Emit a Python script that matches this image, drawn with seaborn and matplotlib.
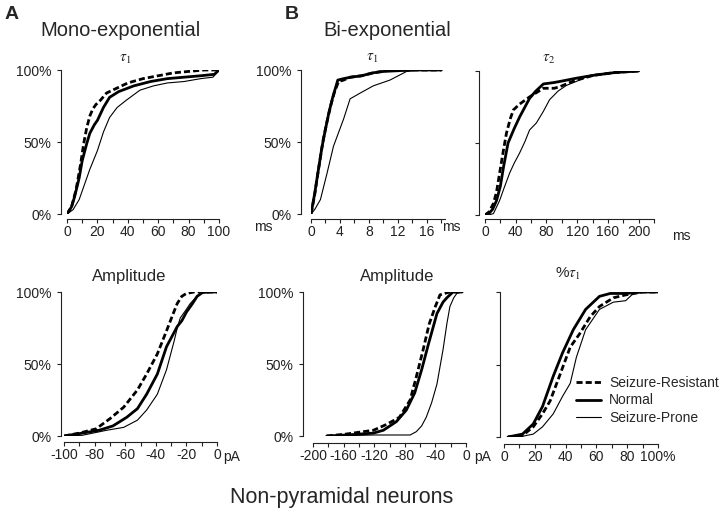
import matplotlib
matplotlib.use("Agg")
import matplotlib.pyplot as plt
import seaborn as sns
from matplotlib.lines import Line2D
from matplotlib.ticker import MultipleLocator

# Mono-exponential tau1 (ms) -- cumulative %
mono_tau_res_x = [0, 3, 6, 9, 11, 13, 15, 17, 19, 22, 26, 32, 40, 50, 60, 70, 80, 90, 100]
mono_tau_res_y = [0, 5, 17, 35, 49, 60, 68, 73, 76, 79, 84, 87, 91, 94, 96, 98, 99, 100, 100]
mono_tau_norm_x = [0, 3, 5, 8, 10, 13, 15, 18, 20, 24, 28, 34, 44, 55, 66, 77, 88, 97, 100]
mono_tau_norm_y = [0, 5, 12, 25, 37, 49, 56, 62, 65, 74, 81, 85, 89, 92, 94, 95, 96, 97, 100]
mono_tau_prone_x = [0, 4, 8, 11, 15, 20, 24, 28, 33, 39, 48, 57, 66, 77, 88, 96, 100]
mono_tau_prone_y = [0, 3, 10, 19, 31, 44, 57, 67, 74, 79, 86, 89, 91, 92, 94, 95, 100]

# Bi-exponential tau1 (ms)
bi_tau1_res_x = [0, 0.5, 1, 1.7, 2.2, 2.7, 3.2, 3.8, 4.5, 5.4, 7, 8.6, 10.9, 14, 18]
bi_tau1_res_y = [0, 13, 30, 52, 64, 75, 84, 92, 93, 95, 96, 98, 100, 100, 100]
bi_tau1_norm_x = [0, 0.5, 1, 1.5, 2, 2.5, 3, 3.7, 4.5, 5.5, 7, 8.5, 10, 14, 18]
bi_tau1_norm_y = [0, 14, 30, 46, 59, 71, 81, 93, 94, 95, 96, 98, 99, 100, 100]
bi_tau1_prone_x = [0, 0.5, 1.3, 2.2, 3.1, 4.5, 5.4, 6.8, 8.6, 10.9, 13.2, 15, 18]
bi_tau1_prone_y = [0, 3, 10, 28, 47, 66, 80, 84, 89, 93, 99, 100, 100]

# Bi-exponential tau2 (ms)
bi_tau2_res_x = [0, 5, 11, 15, 19, 24, 28, 33, 37, 45, 58, 70, 76, 90, 97, 115, 141, 170, 200]
bi_tau2_res_y = [0, 2, 8, 16, 29, 45, 57, 67, 73, 77, 82, 86, 88, 88, 89, 93, 97, 99, 100]
bi_tau2_norm_x = [0, 5, 10, 15, 20, 24, 30, 38, 45, 52, 58, 66, 76, 90, 100, 119, 141, 170, 200]
bi_tau2_norm_y = [0, 1, 4, 10, 20, 33, 50, 60, 68, 75, 81, 86, 91, 92, 93, 95, 97, 99, 100]
bi_tau2_prone_x = [0, 5, 11, 19, 25, 32, 38, 45, 52, 58, 67, 76, 84, 95, 106, 120, 132, 154, 180, 200]
bi_tau2_prone_y = [0, 0, 1, 10, 19, 29, 36, 43, 51, 59, 64, 72, 80, 86, 90, 93, 96, 98, 99, 100]

# Mono-exponential amplitude (pA)
mono_amp_res_x = [-100, -90, -79, -70, -61, -52, -46, -39, -33, -29, -26, -23, -20, -15, -10, 0]
mono_amp_res_y = [0, 2, 5, 12, 20, 32, 43, 57, 73, 84, 92, 97, 99, 100, 100, 100]
mono_amp_norm_x = [-100, -88, -77, -68, -59, -52, -46, -39, -33, -29, -26, -23, -20, -16, -13, -9, -5, 0]
mono_amp_norm_y = [0, 2, 4, 7, 13, 19, 29, 43, 62, 70, 76, 80, 86, 92, 97, 100, 100, 100]
mono_amp_prone_x = [-100, -88, -72, -61, -52, -46, -39, -33, -30, -28, -26, -24, -20, -17.5, -14, -11, 0]
mono_amp_prone_y = [0, 0.5, 4, 6, 11, 18, 29, 46, 58, 66, 75, 82, 88, 92, 96, 99, 100]

# Bi-exponential amplitude (pA)
bi_amp_res_x = [-182, -156, -121, -104, -87, -73, -65, -56, -48, -40, -34, -28, -21, -5]
bi_amp_res_y = [0, 1.4, 4, 8, 13, 25, 41, 60, 78, 90, 98, 99, 100, 100]
bi_amp_norm_x = [-182, -156, -121, -108, -91, -78, -67, -58, -49, -38, -30, -25, -17, -5]
bi_amp_norm_y = [0, 0.7, 2, 4, 10, 18, 30, 46, 64, 85, 93, 96, 100, 100]
bi_amp_prone_x = [-182, -121, -73, -65, -58, -52, -45, -38, -30, -25, -21, -16, -12, -8, -5]
bi_amp_prone_y = [0, 0.7, 0.7, 3, 7, 13, 23, 36, 60, 78, 90, 96, 99, 100, 100]

# Bi-exponential %tau1
pct_res_x = [2.6, 12, 19, 25, 30, 36, 43, 49, 56, 62, 71, 79, 90, 100]
pct_res_y = [0, 1, 7, 16, 25, 42, 62, 71, 83, 90, 96, 98, 100, 100]
pct_norm_x = [2.6, 12, 19, 25, 32, 38, 45, 53, 62, 69, 79, 90, 100]
pct_norm_y = [0, 2, 9, 21, 42, 58, 74, 88, 97, 99, 99, 100, 100]
pct_prone_x = [2.6, 12, 19, 25, 32, 38, 43, 47, 53, 62, 71, 79, 84, 90, 100]
pct_prone_y = [0, 0.5, 2, 7, 16, 28, 37, 55, 74, 88, 93, 94, 99, 100, 100]

group_labels = ["Seizure-Resistant", "Normal", "Seizure-Prone"]
y_ticks = [0, 50, 100]
y_ticklabels = ["0%", "50%", "100%"]

sns.set_style("ticks")
plt.rcParams["font.family"] = ["Liberation Sans", "DejaVu Sans"]
plt.rcParams["mathtext.fontset"] = "stix"

W, H = 720, 513
fig = plt.figure(figsize=(W / 100, H / 100), dpi=100)

def rect(l, t, r, b):
    return [l / W, 1 - b / H, (r - l) / W, (b - t) / H]

def ftext(x, y, s, **kw):
    fig.text(x / W, 1 - y / H, s, ha="center", va="center", **kw)

styles = [dict(lw=2.0, linestyle=(0, (2.2, 1.1))),
          dict(lw=2.0, linestyle="-"),
          dict(lw=0.8, linestyle="-")]

def panel(box, xlim, major, minor, series, xticklabels, show_y, off_l, off_b):
    ax = fig.add_axes(rect(*box))
    for (xs, ys), st in zip(series, styles):
        sns.lineplot(x=xs, y=ys, ax=ax, color="black", sort=False,
                     estimator=None, **st)
    ax.set_xlim(*xlim)
    ax.set_ylim(0, 100)
    sns.despine(ax=ax)
    ax.spines["left"].set_position(("outward", off_l * 0.72))
    ax.spines["bottom"].set_position(("outward", off_b * 0.72))
    for sp in ("left", "bottom"):
        ax.spines[sp].set_linewidth(0.8)
        ax.spines[sp].set_color("#222222")
    ax.set_xticks(major)
    ax.set_xticklabels(xticklabels)
    ax.xaxis.set_minor_locator(MultipleLocator(minor))
    ax.set_yticks(y_ticks)
    ax.set_yticklabels(y_ticklabels if show_y else ["", "", ""])
    ax.tick_params(which="both", direction="out", length=3, width=0.8,
                   labelsize=10, colors="#222222")
    ax.tick_params(axis="x", pad=1.5)
    ax.tick_params(axis="y", pad=4)
    ax.set_xlabel("")
    ax.set_ylabel("")
    return ax

panel((67, 70, 219, 214), (0, 100), [0, 20, 40, 60, 80, 100], 10,
      [(mono_tau_res_x, mono_tau_res_y), (mono_tau_norm_x, mono_tau_norm_y),
       (mono_tau_prone_x, mono_tau_prone_y)],
      ["0", "20", "40", "60", "80", "100"], True, 6, 5)

panel((311, 70, 445, 214), (0, 18.5), [0, 4, 8, 12, 16], 2,
      [(bi_tau1_res_x, bi_tau1_res_y), (bi_tau1_norm_x, bi_tau1_norm_y),
       (bi_tau1_prone_x, bi_tau1_prone_y)],
      ["0", "4", "8", "12", "16"], True, 10, 5)

panel((485, 71, 654, 215), (0, 220), [0, 40, 80, 120, 160, 200], 20,
      [(bi_tau2_res_x, bi_tau2_res_y), (bi_tau2_norm_x, bi_tau2_norm_y),
       (bi_tau2_prone_x, bi_tau2_prone_y)],
      ["0", "40", "80", "120", "160", "200"], False, 6, 4)

panel((64, 292, 217, 436), (-100, 0), [-100, -80, -60, -40, -20, 0], 10,
      [(mono_amp_res_x, mono_amp_res_y), (mono_amp_norm_x, mono_amp_norm_y),
       (mono_amp_prone_x, mono_amp_prone_y)],
      ["-100", "-80", "-60", "-40", "-20", "0"], True, 3, 6)

panel((313, 292, 466, 436), (-200, 0), [-200, -160, -120, -80, -40, 0], 20,
      [(bi_amp_res_x, bi_amp_res_y), (bi_amp_norm_x, bi_amp_norm_y),
       (bi_amp_prone_x, bi_amp_prone_y)],
      ["-200", "-160", "-120", "-80", "-40", "0"], True, 10, 7)

ax_pct = panel((504, 292, 658, 437), (0, 100), [0, 20, 40, 60, 80, 100], 10,
               [(pct_res_x, pct_res_y), (pct_norm_x, pct_norm_y),
                (pct_prone_x, pct_prone_y)],
               ["0", "20", "40", "60", "80", "100%"], False, 4, 7)

# unit labels
ftext(263, 227, "ms", fontsize=10, color="#222222")
ftext(451, 227, "ms", fontsize=10, color="#222222")
ftext(681, 236, "ms", fontsize=10, color="#222222")
ftext(232, 457, "pA", fontsize=10, color="#222222")
ftext(483, 457, "pA", fontsize=10, color="#222222")

# panel titles
ftext(125, 59, r"$\tau_1$", fontsize=11)
ftext(372, 58, r"$\tau_1$", fontsize=11)
ftext(549, 59, r"$\tau_2$", fontsize=11)
ftext(129, 277, "Amplitude", fontsize=12)
ftext(397, 276, "Amplitude", fontsize=12)
ftext(568, 274, r"%$\tau_1$", fontsize=11)

# section headings
ftext(12, 15, "A", fontsize=14, fontweight="bold")
ftext(120, 30, "Mono-exponential", fontsize=14.5)
ftext(292, 15, "B", fontsize=14, fontweight="bold")
ftext(387, 30, "Bi-exponential", fontsize=14.5)
ftext(342, 497, "Non-pyramidal neurons", fontsize=15.5)

handles = [Line2D([], [], color="black", **st) for st in styles]
fig.legend(handles, group_labels, loc="upper left",
           bbox_to_anchor=(576 / W, 1 - 376 / H), frameon=False, fontsize=10,
           handlelength=1.8, handletextpad=0.6, labelspacing=0.25,
           borderaxespad=0, borderpad=0)

fig.savefig("out.png", dpi=100, facecolor="white")
